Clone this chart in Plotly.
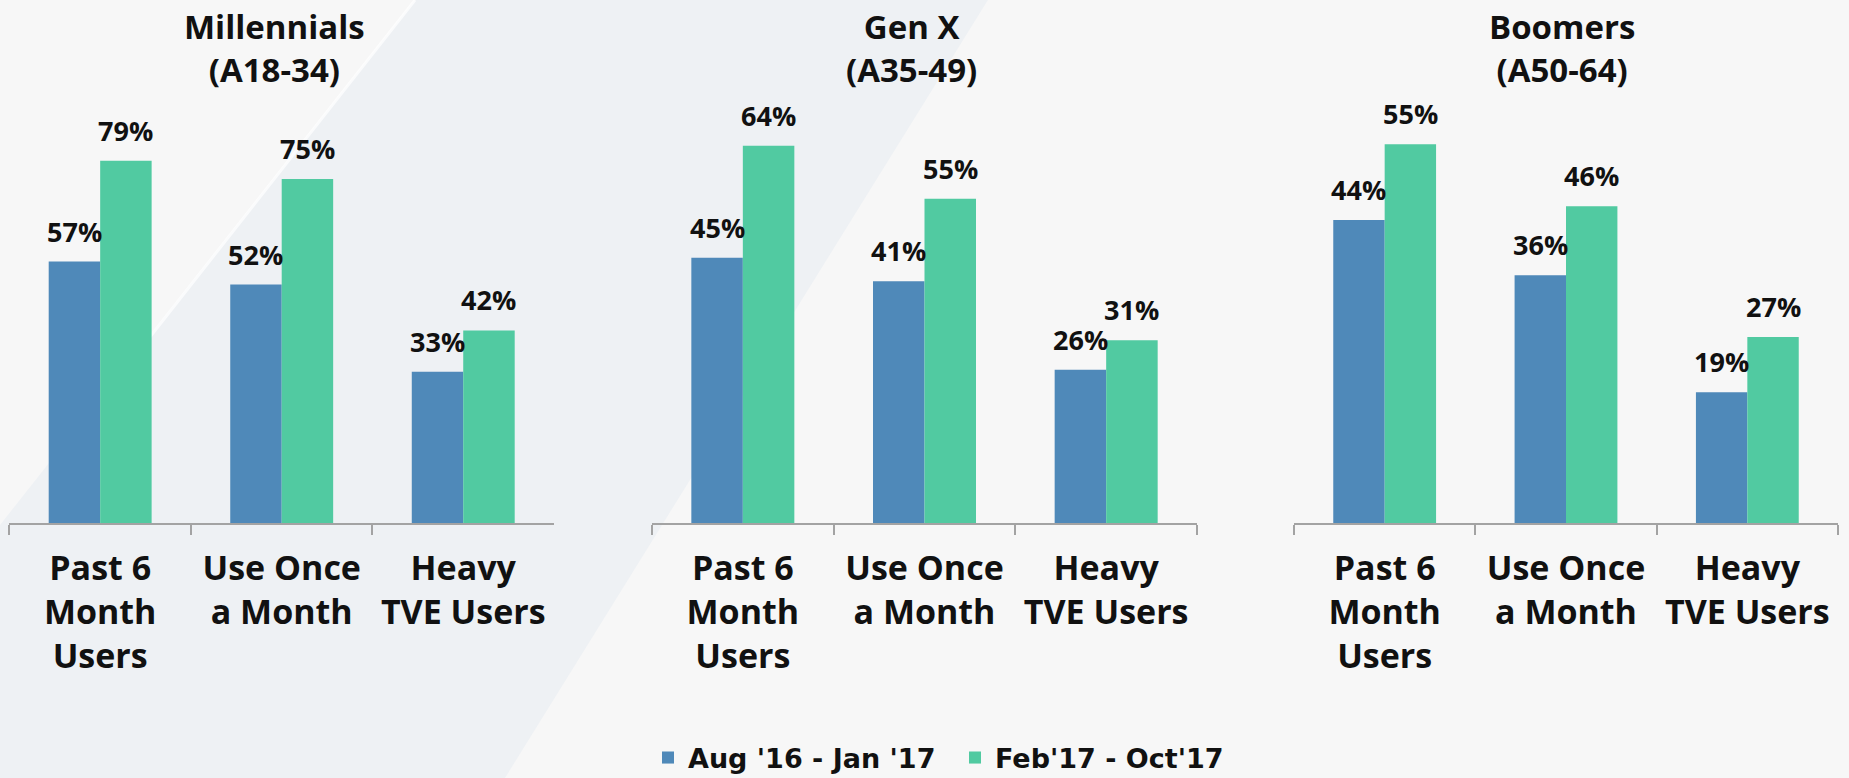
import plotly.graph_objects as go

# ---------------- data ----------------
categories = ["Past 6 Month Users", "Use Once a Month", "Heavy TVE Users"]
tick_labels = ["Past 6<br>Month<br>Users", "Use Once<br>a Month", "Heavy<br>TVE Users"]
series_names = ["Aug '16 - Jan '17", "Feb'17 - Oct'17"]
panel_titles = ["Millennials<br>(A18-34)", "Gen X<br>(A35-49)", "Boomers<br>(A50-64)"]

millennials_aug16_jan17 = [57, 52, 33]
millennials_feb17_oct17 = [79, 75, 42]
genx_aug16_jan17 = [45, 41, 26]
genx_feb17_oct17 = [64, 55, 31]
boomers_aug16_jan17 = [44, 36, 19]
boomers_feb17_oct17 = [55, 46, 27]

panels = [
    (millennials_aug16_jan17, millennials_feb17_oct17),
    (genx_aug16_jan17, genx_feb17_oct17),
    (boomers_aug16_jan17, boomers_feb17_oct17),
]

# ---------------- style ----------------
W, H = 1849, 778
BLUE = "#4f89b9"
GREEN = "#51caa1"
AXIS_GREY = "#a3a3a3"
FONT = "Open Sans"
x_domains = [(9.4 / W, 554 / W), (652 / W, 1197 / W), (1294 / W, 1838 / W)]
y_domain = (1 - 523 / H, 1 - 100 / H)
y_ranges = [92.24, 71.76, 61.44]
title_x = [274.5 / W, 911 / W, 1562 / W]
BARGAP = 0.433
cat_w = 545 / 3
bar_half = cat_w * (1 - BARGAP) / 4

fig = go.Figure()
annotations = []
for i, (s1, s2) in enumerate(panels):
    xa = "x" if i == 0 else f"x{i+1}"
    ya = "y" if i == 0 else f"y{i+1}"
    for k, (vals, name, col) in enumerate(zip((s1, s2), series_names, (BLUE, GREEN))):
        fig.add_trace(go.Bar(
            x=categories, y=vals, name=name, marker=dict(color=col, line=dict(width=0)),
            xaxis=xa, yaxis=ya, showlegend=(i == 0), offsetgroup=str(k),
            hoverinfo="skip",
        ))
        for c, v in zip(categories, vals):
            annotations.append(dict(
                x=c, y=v, xref=xa, yref=ya, text=f"{v}%", showarrow=False,
                xanchor="center", yanchor="bottom", xshift=(-1 if k == 0 else 1) * bar_half,
                yshift=10, font=dict(family=FONT, size=27, color="#111111", weight="bold"),
            ))
    annotations.append(dict(
        x=title_x[i], y=1, xref="paper", yref="paper", yanchor="top", xanchor="center",
        yshift=-2, text=panel_titles[i], showarrow=False,
        font=dict(family=FONT, size=33, color="#111111", weight="bold"),
    ))

axis_common = dict(
    showline=True, linecolor=AXIS_GREY, linewidth=2, ticks="outside", tickson="boundaries",
    ticklen=10, tickwidth=2, tickcolor=AXIS_GREY, showgrid=False, zeroline=False,
    tickmode="array", tickvals=categories, ticktext=tick_labels,
    tickfont=dict(family=FONT, size=34, color="#111111", weight="bold"),
    ticklabelstandoff=14, fixedrange=True, automargin=False,
)
layout_axes = {}
for i in range(3):
    xk = "xaxis" if i == 0 else f"xaxis{i+1}"
    yk = "yaxis" if i == 0 else f"yaxis{i+1}"
    ya = "y" if i == 0 else f"y{i+1}"
    layout_axes[xk] = dict(domain=list(x_domains[i]), anchor=ya, **axis_common)
    layout_axes[yk] = dict(domain=list(y_domain), range=[0, y_ranges[i]], visible=False,
                           anchor=("x" if i == 0 else f"x{i+1}"), fixedrange=True,
                           automargin=False)

# decorative background band
def px(x, y):
    return f"{x / W:.4f},{1 - y / H:.4f}"

band_path = ("M " + px(415, 0) + " L " + px(988, 0) + " L " + px(505, H) +
             " L " + px(0, H) + " L " + px(0, 525) + " Z")
shapes = [
    dict(type="path", xref="paper", yref="paper", path=band_path,
         fillcolor="#eef1f4", line=dict(width=0), layer="below"),
    dict(type="line", xref="paper", yref="paper", x0=415 / W, y0=1, x1=120 / W, y1=1 - 375 / H,
         line=dict(color="rgba(255,255,255,0.7)", width=3), layer="below"),
]

fig.update_layout(
    width=W, height=H, autosize=False,
    margin=dict(l=0, r=0, t=0, b=0, pad=0, autoexpand=False),
    paper_bgcolor="#f7f7f7", plot_bgcolor="rgba(0,0,0,0)",
    barmode="group", bargap=BARGAP, bargroupgap=0,
    annotations=annotations, shapes=shapes,
    showlegend=True,
    legend=dict(
        orientation="h", x=648 / W, xanchor="left", y=1 - 758 / H, yanchor="middle",
        font=dict(family="DejaVu Sans", size=27, color="#111111", weight="bold"),
        bgcolor="rgba(0,0,0,0)", entrywidth=262, entrywidthmode="pixels",
        itemclick=False, itemdoubleclick=False,
    ),
    **layout_axes,
)

fig.write_html("out.html", config={"displayModeBar": False},
               post_script="document.body.style.margin='0';document.body.style.overflow='hidden';")
